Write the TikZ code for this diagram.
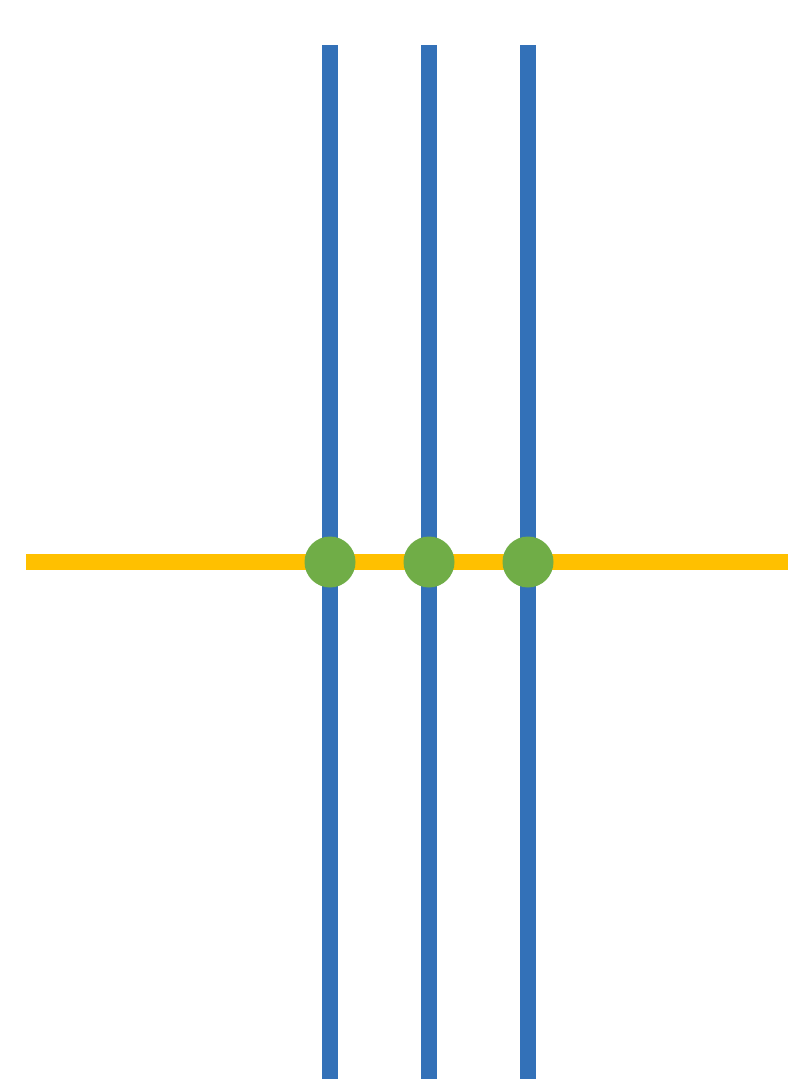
\documentclass[tikz,border=0pt]{standalone}
\definecolor{wireblue}{HTML}{3371B8}
\definecolor{wireyellow}{HTML}{FFC000}
\definecolor{dotgreen}{HTML}{70AD47}
\tikzset{
  vwire/.style={draw=wireblue, line width=16pt},
  hwire/.style={draw=wireyellow, line width=16pt},
  junction/.style={circle, fill=dotgreen, minimum size=51pt, inner sep=0pt}
}
\begin{document}
\begin{tikzpicture}[x=1pt,y=-1pt]
\useasboundingbox (0,0) rectangle (788,1079);
\coordinate (hl) at (26,562);
\coordinate (hr) at (788,562);
\coordinate (t1) at (330,45);
\coordinate (t2) at (429,45);
\coordinate (t3) at (528,45);
\coordinate (b1) at (330,1079);
\coordinate (b2) at (429,1079);
\coordinate (b3) at (528,1079);
\draw[hwire] (hl) -- (hr);
\draw[vwire] (t1) -- (b1);
\draw[vwire] (t2) -- (b2);
\draw[vwire] (t3) -- (b3);
\node[junction] (j1) at (330,562) {};
\node[junction] (j2) at (429,562) {};
\node[junction] (j3) at (528,562) {};
\end{tikzpicture}
\end{document}
